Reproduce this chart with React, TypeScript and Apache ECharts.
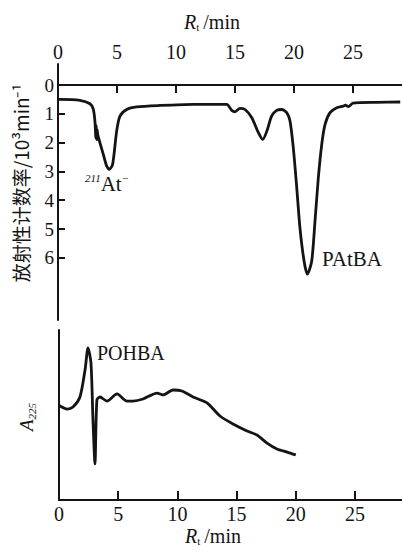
import React, { useEffect, useRef } from "react";
import * as echarts from "echarts";

// Top panel: radioactivity count rate (10^3 min^-1) vs retention time (min)
const countTimes = [0.0, 0.17, 1.86, 2.71, 2.99, 3.14, 3.2, 3.24, 3.28, 3.32, 3.38, 3.84, 4.12, 4.35, 4.63, 4.97, 5.25, 5.82, 6.67, 8.64, 11.47, 14.3, 14.72, 15.0, 15.42, 15.85, 16.41, 16.98, 17.35, 17.7, 18.1, 18.53, 18.96, 19.38, 19.66, 19.94, 20.23, 20.5, 20.85, 21.13, 21.5, 21.78, 22.06, 22.35, 22.63, 23.05, 23.62, 24.18, 24.35, 24.6, 25.0, 27.0, 29.0];
const countRates = [0.5, 0.5, 0.53, 0.65, 0.84, 1.31, 1.85, 1.4, 1.9, 1.55, 1.75, 2.41, 2.81, 2.93, 2.75, 1.6, 1.08, 0.85, 0.76, 0.71, 0.67, 0.67, 0.88, 0.93, 0.81, 0.85, 1.13, 1.65, 1.89, 1.6, 1.08, 0.88, 0.85, 0.96, 1.25, 2.18, 3.56, 4.95, 6.11, 6.57, 6.11, 4.72, 3.22, 2.06, 1.37, 0.96, 0.79, 0.73, 0.7, 0.75, 0.63, 0.6, 0.59];

// Bottom panel: UV absorbance at 225 nm (arbitrary units) vs retention time (min)
const absTimes = [0.0, 0.08, 0.68, 1.18, 1.77, 2.2, 2.45, 2.7, 2.87, 3.04, 3.2, 3.46, 4.05, 4.9, 5.74, 6.25, 7.09, 8.28, 8.78, 9.63, 10.39, 11.32, 12.5, 13.6, 14.7, 15.88, 16.72, 17.57, 18.41, 19.26, 20.0];
const absValues = [56, 55.3, 53.5, 54.7, 60.6, 76.5, 89.4, 80.6, 47, 21.2, 58.8, 60.6, 58.2, 62.4, 58.2, 58.2, 59.4, 62.9, 61.8, 64.7, 64.1, 60.6, 57.1, 49.4, 44.7, 40.6, 38.2, 33.5, 30, 28.2, 26.5];

const timeTicks = [0, 5, 10, 15, 20, 25];
const countTicks = [0, 1, 2, 3, 4, 5, 6];

const SERIF = "'Liberation Serif', 'DejaVu Serif', serif";
const INK = "#141414";

export default function App() {
  const ref = useRef<HTMLDivElement>(null);
  useEffect(() => {
    if (!ref.current) return;
    const chart = echarts.init(ref.current, null, { renderer: "svg" });
    const axisLine = { show: true, lineStyle: { color: INK, width: 2 } };
    const label = { fontFamily: SERIF, fontSize: 20, color: INK, lineHeight: 18 };
    const nameRich = {
      r: { fontFamily: SERIF, fontStyle: "italic", fontSize: 20, lineHeight: 20 },
      s: { fontFamily: SERIF, fontSize: 11, verticalAlign: "bottom", lineHeight: 10, padding: [0, 4, 0, 0] },
      m: { fontFamily: SERIF, fontSize: 20, lineHeight: 20 },
    };
    const option: any = {
      animation: false,
      backgroundColor: "#ffffff",
      grid: [
        { left: 58, top: 64, width: 344, height: 256 },
        { left: 59, top: 330, width: 343, height: 170 },
      ],
      xAxis: [
        {
          gridIndex: 0, type: "value", position: "top", min: 0, max: 29.15, interval: 5,
          axisLine, splitLine: { show: false },
          axisTick: { show: true, inside: true, length: 8, customValues: timeTicks, lineStyle: { color: INK, width: 2 } },
          axisLabel: { ...label, margin: 3, customValues: timeTicks },
        },
        {
          gridIndex: 1, type: "value", position: "bottom", min: 0, max: 28.97, interval: 5,
          axisLine, splitLine: { show: false },
          axisTick: { show: true, inside: true, length: 9, customValues: timeTicks, lineStyle: { color: INK, width: 2 } },
          axisLabel: { ...label, margin: 5, customValues: timeTicks },
        },
      ],
      yAxis: [
        {
          gridIndex: 0, type: "value", inverse: true, min: -0.73, max: 8.16,
          axisLine, splitLine: { show: false },
          axisTick: { show: true, inside: true, length: 7, customValues: countTicks, lineStyle: { color: INK, width: 2 } },
          axisLabel: { ...label, fontSize: 19, margin: 4, customValues: countTicks },
        },
        {
          gridIndex: 1, type: "value", min: 0, max: 100,
          axisLine, splitLine: { show: false },
          axisTick: { show: false }, axisLabel: { show: false },
        },
      ],
      series: [
        {
          type: "line", xAxisIndex: 0, yAxisIndex: 0, symbol: "none", smooth: 0.25,
          lineStyle: { color: INK, width: 2.8 },
          data: countTimes.map((t, i) => [t, countRates[i]]),
        },
        {
          type: "line", xAxisIndex: 1, yAxisIndex: 1, symbol: "none", smooth: 0.25,
          lineStyle: { color: INK, width: 2.8 },
          data: absTimes.map((t, i) => [t, absValues[i]]),
        },
      ],
      graphic: [
        {
          type: "text", x: 212, y: 22,
          style: { text: "{r|R}{s|t}{m|/min}", align: "center", verticalAlign: "middle", fill: INK, rich: nameRich },
        },
        {
          type: "text", x: 213, y: 536,
          style: { text: "{r|R}{s|t}{m|/min}", align: "center", verticalAlign: "middle", fill: INK, rich: nameRich },
        },
        {
          type: "text", x: 20, y: 183, rotation: Math.PI / 2,
          style: {
            text: "放射性计数率/10³min⁻¹", align: "center", verticalAlign: "middle", fill: INK,
            font: "19px 'Noto Sans CJK SC', sans-serif",
          },
        },
        {
          type: "text", x: 26, y: 417, rotation: Math.PI / 2,
          style: {
            text: "{a|A}{s|225}", align: "center", verticalAlign: "middle", fill: INK,
            rich: {
              a: { fontFamily: SERIF, fontStyle: "italic", fontSize: 19, lineHeight: 22 },
              s: { fontFamily: SERIF, fontStyle: "italic", fontSize: 11, verticalAlign: "bottom", lineHeight: 11 },
            },
          },
        },
        {
          type: "text", x: 85, y: 184,
          style: {
            text: "{s|211}{m|At}{s|−}", align: "left", verticalAlign: "middle", fill: INK,
            rich: {
              s: { fontFamily: SERIF, fontStyle: "italic", fontSize: 11, verticalAlign: "top", lineHeight: 11 },
              m: { fontFamily: SERIF, fontSize: 21, lineHeight: 24 },
            },
          },
        },
        {
          type: "text", x: 322, y: 259,
          style: { text: "PAtBA", align: "left", verticalAlign: "middle", fill: INK, font: `21px ${SERIF}` },
        },
        {
          type: "text", x: 97, y: 353,
          style: { text: "POHBA", align: "left", verticalAlign: "middle", fill: INK, font: `20px ${SERIF}` },
        },
      ],
    };
    chart.setOption(option);
    return () => chart.dispose();
  }, []);
  return (
    <div
      ref={ref}
      style={{ position: "absolute", left: 0, top: 0, width: 402, height: 553, background: "#fff" }}
    />
  );
}
